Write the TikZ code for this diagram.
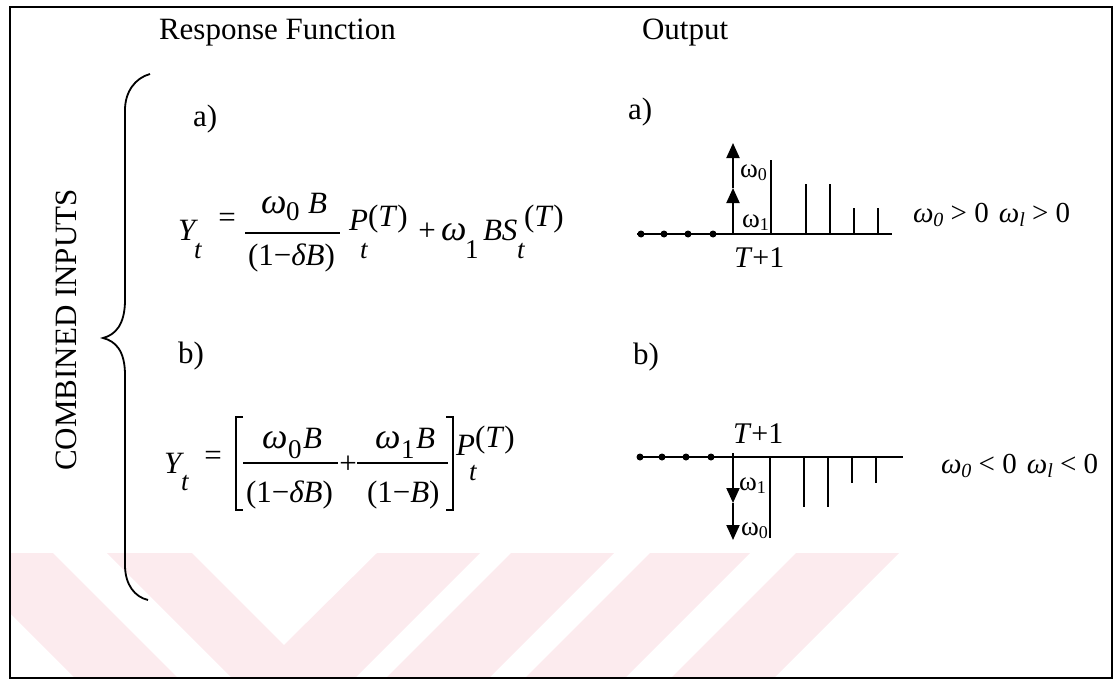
\documentclass[tikz,border=0pt]{standalone}
\usepackage{fontspec}
\setmainfont{Liberation Serif}
\usetikzlibrary{arrows.meta}
\definecolor{wmpink}{HTML}{FCEBEE}
\newcommand\slot[2]{\makebox[#1][l]{#2}}
\newcommand\szM{\fontsize{31}{37}\selectfont}
\newcommand\szW{\fontsize{36}{42}\selectfont}
\newcommand\szS{\fontsize{27}{32}\selectfont}
\newcommand\omsub[1]{\raisebox{-4pt}{\fontsize{20}{20}\selectfont\itshape #1}}
\newcommand\plotsub[1]{\raisebox{-3pt}{\fontsize{18}{18}\selectfont #1}}

\begin{document}
\begin{tikzpicture}[x=1pt, y=-1pt, line width=2pt, line cap=butt,
  txt/.style={inner sep=0pt, anchor=base west, font=\szM},
  op/.style={inner sep=0pt, anchor=center, font=\szM},
  plbl/.style={txt, font=\fontsize{27}{31}\selectfont},
  tee/.style={txt, font=\fontsize{30}{35}\selectfont},
  cond/.style={txt, font=\fontsize{29}{34}\selectfont},
  bar/.style={line width=1.6pt},
  stem/.style={line width=2pt},
  tip/.style={line width=2pt, -{Triangle[length=15pt,width=13pt]}},
  dot/.style={circle, fill, inner sep=0pt, minimum size=7pt}]

  %% ════ watermark stripes ════
  \fill[wmpink] (10,553) -- (53,553) -- (178,678) -- (75,678) -- (10,613) -- cycle;
  \fill[wmpink] (107,553) -- (192,553) -- (284,645) -- (377,553) -- (480,553) -- (355,678) -- (232,678) -- cycle;
  \fill[wmpink] (511,553) -- (614,553) -- (489,678) -- (386,678) -- cycle;
  \fill[wmpink] (650,553) -- (750,553) -- (625,678) -- (525,678) -- cycle;
  \fill[wmpink] (796,553) -- (899,553) -- (774,678) -- (671,678) -- cycle;

  %% ════ frame + brace ════
  \draw (10,7) rectangle (1112,678);
  \draw[line width=1.8pt] (150,74) .. controls (135,78) and (125,92) .. (125,110)
    -- (125,300) .. controls (125,325) and (115,335) .. (103,338)
    .. controls (115,341) and (125,350) .. (125,375)
    -- (125,565) .. controls (125,585) and (135,597) .. (148,600);

  %% ════ headings ════
  \node[txt] (hresp) at (158,39) {Response Function};
  \node[txt] (hout) at (641,39) {Output};
  \node[op, rotate=90] (comb) at (66,330) {COMBINED INPUTS};
  \node[txt] (la) at (192,126) {a)};
  \node[txt] (lb) at (177,363) {b)};
  \node[txt] (ra) at (627,119) {a)};
  \node[txt] (rb) at (632,364) {b)};

  %% ════ equation a ════
  \node[txt] (aY) at (177,240) {\itshape\slot{16pt}{Y}\raisebox{-18pt}{\szS t}};
  \node[op] (aeq) at (227,220) {=};
  \node[txt] (anum) at (260,213) {\itshape\slot{25pt}{\szW ω}\slot{22pt}{\raisebox{-7pt}{\szS\upshape 0}}B};
  \draw[bar] (245,233) -- (340,233);
  \node[txt] (aden) at (247,265) {(1−\textit{δB})};
  \node[txt] (aP) at (348,230) {\itshape\slot{11pt}{P}\slot{8pt}{\raisebox{-28pt}{\szS t}}\raisebox{4pt}{\upshape(\textit{T})}};
  \node[op] (aplus) at (427,232) {+};
  \node[txt] (aBS) at (440,240) {\itshape\slot{24pt}{\szW ω}\slot{18pt}{\raisebox{-18pt}{\szS\upshape 1}}\slot{34pt}{BS}\slot{7pt}{\raisebox{-18pt}{\szS t}}\raisebox{14pt}{\upshape(\textit{T})}};

  %% ════ equation b ════
  \node[txt] (bY) at (163,473) {\itshape\slot{17pt}{Y}\raisebox{-17pt}{\szS t}};
  \node[op] (beq) at (213,458) {=};
  \draw[line width=1.8pt] (243,417) -- (236,417) -- (236,510) -- (243,510);
  \node[txt] (bnum0) at (261,448) {\itshape\slot{26pt}{\szW ω}\slot{15pt}{\raisebox{-10pt}{\szS\upshape 0}}B};
  \draw[bar] (243,463) -- (338,463);
  \node[txt] (bden0) at (245,502) {(1−\textit{δB})};
  \node[op] (bplus) at (348,465) {+};
  \node[txt] (bnum1) at (374,448) {\itshape\slot{26pt}{\szW ω}\slot{15pt}{\raisebox{-10pt}{\szS\upshape 1}}B};
  \draw[bar] (357,463) -- (448,463);
  \node[txt] (bden1) at (366,502) {(1−\textit{B})};
  \draw[line width=1.8pt] (446,417) -- (453,417) -- (453,510) -- (446,510);
  \node[txt] (bP) at (455,455) {\itshape\slot{13pt}{P}\slot{6pt}{\raisebox{-25pt}{\szS t}}\raisebox{8pt}{\upshape(\textit{T})}};

  %% ════ output a ════
  \draw (637,234) -- (892,234);
  \foreach \x [count=\i] in {641,664,688,713}
    \node[dot] (ad\i) at (\x,234) {};
  \coordinate (aBase) at (733,234);
  \coordinate (aMid) at (733,188);
  \coordinate (aTop) at (733,143);
  \draw[tip] (aBase) -- (aMid);
  \draw[tip] (aMid) -- (aTop);
  \draw[stem] (771,234) -- (771,160);
  \draw[stem] (806,234) -- (806,184);
  \draw[stem] (830,234) -- (830,184);
  \draw[stem] (854,234) -- (854,208);
  \draw[stem] (878,234) -- (878,208);
  \node[plbl] (aw0l) at (739,177) {ω\plotsub{0}};
  \node[plbl] (aw1l) at (741,227) {ω\plotsub{1}};
  \node[tee] (aT1) at (733,267) {\textit{T}+1};
  \node[cond] (acond) at (912,222) {\textit{ω}\omsub{0} > 0\hspace{10pt}\textit{ω}\omsub{l} > 0};

  %% ════ output b ════
  \draw (637,457) -- (903,457);
  \foreach \x [count=\i] in {640,662,686,711}
    \node[dot] (bd\i) at (\x,457) {};
  \coordinate (bBase) at (733,453);
  \coordinate (bMid) at (733,503);
  \coordinate (bBot) at (733,540);
  \draw[tip] (bBase) -- (bMid);
  \draw[tip] (bMid) -- (bBot);
  \draw[stem] (770,457) -- (770,538);
  \draw[stem] (804,457) -- (804,507);
  \draw[stem] (828,457) -- (828,507);
  \draw[stem] (852,457) -- (852,483);
  \draw[stem] (876,457) -- (876,483);
  \node[plbl] (bw1l) at (738,490) {ω\plotsub{1}};
  \node[plbl] (bw0l) at (740,535) {ω\plotsub{0}};
  \node[tee] (bT1) at (732,443) {\textit{T}+1};
  \node[cond] (bcond) at (940,473) {\textit{ω}\omsub{0} < 0\hspace{10pt}\textit{ω}\omsub{l} < 0};

  % fix the canvas to the reference size
  \pgfresetboundingbox
  \path[use as bounding box] (0,0) rectangle (1114,680);
\end{tikzpicture}
\end{document}
